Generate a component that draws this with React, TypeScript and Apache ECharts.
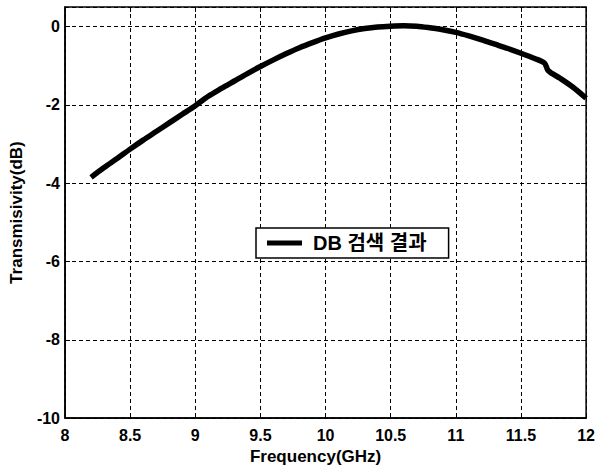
import React, { useEffect, useRef } from "react";
import * as echarts from "echarts";

const freq = [8.2, 8.3, 8.4, 8.5, 8.6, 8.7, 8.8, 8.9, 9.0, 9.1, 9.2, 9.3, 9.4, 9.5, 9.6, 9.7, 9.8, 9.9, 10.0, 10.1, 10.2, 10.3, 10.4, 10.5, 10.6, 10.7, 10.8, 10.9, 11.0, 11.1, 11.2, 11.3, 11.4, 11.5, 11.6, 11.68, 11.71, 11.8, 11.9, 12.0];
const transmissivity = [-3.85, -3.6, -3.37, -3.13, -2.9, -2.68, -2.46, -2.24, -2.02, -1.78, -1.58, -1.39, -1.2, -1.02, -0.85, -0.69, -0.54, -0.41, -0.29, -0.19, -0.11, -0.05, -0.01, 0.01, 0.02, 0.01, -0.03, -0.08, -0.15, -0.24, -0.34, -0.45, -0.56, -0.68, -0.81, -0.93, -1.13, -1.32, -1.55, -1.83];
const seriesName = "DB 검색 결과";
const xTitle = "Frequency(GHz)";
const yTitle = "Transmisivity(dB)";

const FONT = "'Liberation Sans', Arial, 'Noto Sans CJK KR', sans-serif";

export default function App() {
  const ref = useRef<HTMLDivElement>(null);
  useEffect(() => {
    if (!ref.current) return;
    const chart = echarts.init(ref.current, null, { renderer: "svg" });
    const data = freq.map((f, i) => [f, transmissivity[i]]);
    const labelStyle = { color: "#000", fontFamily: FONT, fontWeight: "bold" as const, fontSize: 16 };
    chart.setOption({
      animation: false,
      backgroundColor: "#fff",
      grid: { left: 65, right: 11, top: 7, bottom: 50, show: true, borderColor: "#000", borderWidth: 1.5 },
      legend: {
        left: 256,
        top: 228,
        padding: [5, 22, 5, 11],
        itemWidth: 35,
        itemHeight: 5,
        icon: "rect",
        backgroundColor: "#fff",
        borderColor: "#000",
        borderWidth: 1.5,
        borderRadius: 0,
        textStyle: { color: "#000", fontFamily: FONT, fontWeight: "bold", fontSize: 20, lineHeight: 20, padding: [0, 0, 0, 6] },
        data: [{ name: seriesName, itemStyle: { color: "#000" } }],
      },
      xAxis: [
        {
          type: "value",
          min: 8,
          max: 12,
          interval: 0.5,
          name: xTitle,
          nameLocation: "middle",
          nameGap: 24,
          nameTextStyle: { ...labelStyle, fontSize: 17, padding: [0, 20, 0, 0] },
          axisLine: { show: true, onZero: false, lineStyle: { color: "#000", width: 1.5 } },
          axisTick: { show: true, inside: true, length: 5, lineStyle: { color: "#000" } },
          axisLabel: { ...labelStyle, margin: 9 },
          splitLine: { show: true, lineStyle: { color: "#000", type: [4, 3], width: 1 } },
        },
        {
          type: "value",
          position: "top",
          min: 8,
          max: 12,
          interval: 0.5,
          axisLine: { show: false, onZero: false },
          axisTick: { show: true, inside: true, length: 5, lineStyle: { color: "#000" } },
          axisLabel: { show: false },
          splitLine: { show: false },
        },
      ],
      yAxis: [
        {
          type: "value",
          min: -10,
          max: 0.5,
          interval: 2,
          name: yTitle,
          nameLocation: "middle",
          nameGap: 40,
          nameTextStyle: { ...labelStyle, fontSize: 17 },
          axisLine: { show: true, onZero: false, lineStyle: { color: "#000", width: 1.5 } },
          axisTick: { show: true, inside: true, length: 5, lineStyle: { color: "#000" } },
          axisLabel: { ...labelStyle, margin: 5, showMaxLabel: false, formatter: (v: number) => (v > 0 ? "" : String(v)) },
          splitLine: { show: true, lineStyle: { color: "#000", type: [4, 3], width: 1 } },
        },
        {
          type: "value",
          position: "right",
          min: -10,
          max: 0.5,
          interval: 2,
          axisLine: { show: false, onZero: false },
          axisTick: { show: true, inside: true, length: 5, lineStyle: { color: "#000" } },
          axisLabel: { show: false },
          splitLine: { show: false },
        },
      ],
      series: [
        {
          name: seriesName,
          type: "line",
          data,
          xAxisIndex: 0,
          yAxisIndex: 0,
          symbol: "none",
          smooth: 0.3,
          lineStyle: { color: "#000", width: 5.5 },
          itemStyle: { color: "#000" },
        },
      ],
    });
    return () => chart.dispose();
  }, []);
  return (
    <div style={{ position: "fixed", left: 0, top: 0, width: 598, height: 470, background: "#fff" }}>
      <div ref={ref} style={{ width: 598, height: 470 }} />
    </div>
  );
}
